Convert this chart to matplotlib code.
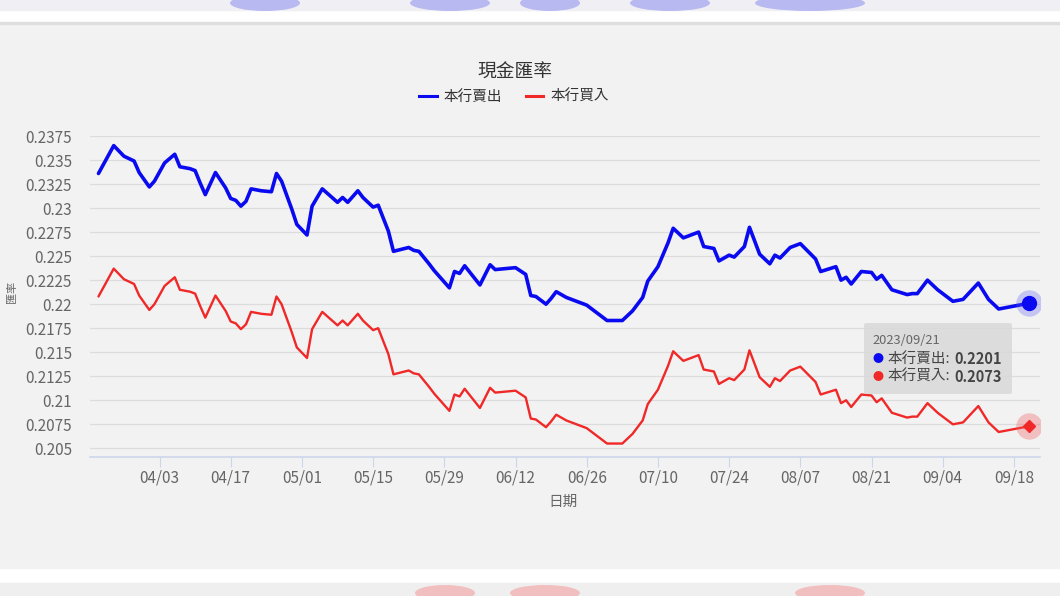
import matplotlib
matplotlib.use('Agg')
import matplotlib.pyplot as plt
import matplotlib.dates as mdates
from matplotlib.patches import Rectangle, Ellipse, FancyBboxPatch
from matplotlib.lines import Line2D
import pandas as pd

plt.rcParams['font.family'] = ['Noto Sans CJK TC', 'DejaVu Sans']

# data (cash rate, 2023)
dates = ['03-22', '03-25', '03-27', '03-29', '03-30', '04-01', '04-02', '04-04',
         '04-06', '04-07', '04-09', '04-10', '04-11', '04-12', '04-14', '04-16',
         '04-17', '04-18', '04-19', '04-20', '04-21', '04-23', '04-25', '04-26',
         '04-27', '04-29', '04-30', '05-02', '05-03', '05-05', '05-08', '05-09',
         '05-10', '05-12', '05-13', '05-15', '05-16', '05-18', '05-19', '05-22',
         '05-23', '05-24', '05-26', '05-27', '05-30', '05-31', '06-01', '06-02',
         '06-05', '06-07', '06-08', '06-12', '06-14', '06-15', '06-16', '06-18',
         '06-19', '06-20', '06-22', '06-26', '06-28', '06-30', '07-03', '07-05',
         '07-07', '07-08', '07-10', '07-12', '07-13', '07-15', '07-18', '07-19',
         '07-21', '07-22', '07-24', '07-25', '07-27', '07-28', '07-30', '08-01',
         '08-02', '08-03', '08-05', '08-07', '08-10', '08-11', '08-14', '08-15',
         '08-16', '08-17', '08-19', '08-21', '08-22', '08-23', '08-25', '08-28',
         '08-29', '08-30', '09-01', '09-03', '09-06', '09-08', '09-11', '09-13',
         '09-15', '09-18', '09-21']

sell = [0.2336, 0.2365, 0.2354, 0.2349, 0.2337, 0.2322, 0.2328, 0.2347,
        0.2356, 0.2343, 0.2341, 0.2339, 0.2326, 0.2314, 0.2337, 0.2321,
        0.2310, 0.2308, 0.2302, 0.2307, 0.2320, 0.2318, 0.2317, 0.2336,
        0.2328, 0.2299, 0.2283, 0.2272, 0.2302, 0.2320, 0.2306, 0.2311,
        0.2306, 0.2318, 0.2311, 0.2301, 0.2303, 0.2276, 0.2255, 0.2259,
        0.2256, 0.2255, 0.2242, 0.2235, 0.2217, 0.2234, 0.2232, 0.2240,
        0.2220, 0.2241, 0.2236, 0.2238, 0.2231, 0.2209, 0.2208, 0.2200,
        0.2206, 0.2213, 0.2207, 0.2199, 0.2191, 0.2183, 0.2183, 0.2193,
        0.2207, 0.2224, 0.2239, 0.2264, 0.2279, 0.2269, 0.2275, 0.2260,
        0.2258, 0.2245, 0.2251, 0.2249, 0.2260, 0.2280, 0.2252, 0.2242,
        0.2251, 0.2248, 0.2259, 0.2263, 0.2247, 0.2234, 0.2239, 0.2225,
        0.2228, 0.2221, 0.2234, 0.2233, 0.2226, 0.2230, 0.2215, 0.2210,
        0.2211, 0.2211, 0.2225, 0.2215, 0.2203, 0.2205, 0.2222, 0.2205,
        0.2195, 0.2198, 0.2201]

buy = [0.2208, 0.2237, 0.2226, 0.2221, 0.2209, 0.2194, 0.2200, 0.2219,
       0.2228, 0.2215, 0.2213, 0.2211, 0.2198, 0.2186, 0.2209, 0.2193,
       0.2182, 0.2180, 0.2174, 0.2179, 0.2192, 0.2190, 0.2189, 0.2208,
       0.2200, 0.2171, 0.2155, 0.2144, 0.2174, 0.2192, 0.2178, 0.2183,
       0.2178, 0.2190, 0.2183, 0.2173, 0.2175, 0.2148, 0.2127, 0.2131,
       0.2128, 0.2127, 0.2114, 0.2107, 0.2089, 0.2106, 0.2104, 0.2112,
       0.2092, 0.2113, 0.2108, 0.2110, 0.2103, 0.2081, 0.2080, 0.2072,
       0.2078, 0.2085, 0.2079, 0.2071, 0.2063, 0.2055, 0.2055, 0.2065,
       0.2079, 0.2096, 0.2111, 0.2136, 0.2151, 0.2141, 0.2147, 0.2132,
       0.2130, 0.2117, 0.2123, 0.2121, 0.2132, 0.2152, 0.2124, 0.2114,
       0.2123, 0.2120, 0.2131, 0.2135, 0.2119, 0.2106, 0.2111, 0.2097,
       0.2100, 0.2093, 0.2106, 0.2105, 0.2098, 0.2102, 0.2087, 0.2082,
       0.2083, 0.2083, 0.2097, 0.2087, 0.2075, 0.2077, 0.2094, 0.2077,
       0.2067, 0.2070, 0.2073]

xtick_dates = ['04-03', '04-17', '05-01', '05-15', '05-29', '06-12', '06-26',
               '07-10', '07-24', '08-07', '08-21', '09-04', '09-18']
ytick_vals = [0.205, 0.2075, 0.21, 0.2125, 0.215, 0.2175, 0.22, 0.2225,
              0.225, 0.2275, 0.23, 0.2325, 0.235, 0.2375]
ytick_labels = ['0.205', '0.2075', '0.21', '0.2125', '0.215', '0.2175', '0.22',
                '0.2225', '0.225', '0.2275', '0.23', '0.2325', '0.235', '0.2375']

x = pd.to_datetime(['2023-' + d for d in dates])
xt = pd.to_datetime(['2023-' + d for d in xtick_dates])

W, H = 1060, 596
fig = plt.figure(figsize=(W / 100, H / 100), dpi=100)
fig.patch.set_facecolor('white')


def fx(px):
    return px / W


def fy(py):
    return 1 - py / H


# page background pieces (screenshot strips)
fig.add_artist(Rectangle((0, fy(10)), 1, 10 / H, transform=fig.transFigure,
                         color='#efeff4', zorder=0))
for cx, w in [(265, 70), (450, 80), (550, 60), (670, 80), (810, 110)]:
    fig.add_artist(Ellipse((fx(cx), fy(3)), w / W, 16 / H, transform=fig.transFigure,
                           color='#8d8df0', alpha=0.55, lw=0, zorder=0))
fig.add_artist(Rectangle((0, fy(568)), 1, (568 - 23) / H, transform=fig.transFigure,
                         color='#f2f2f2', zorder=0))
fig.add_artist(Rectangle((0, fy(24)), 1, 1.5 / H, transform=fig.transFigure,
                         color='#dedede', zorder=0))
fig.add_artist(Rectangle((0, 0), 1, 13 / H, transform=fig.transFigure,
                         color='#efefef', zorder=0))
for cx, w in [(445, 60), (545, 70), (830, 70)]:
    fig.add_artist(Ellipse((fx(cx), fy(593)), w / W, 16 / H, transform=fig.transFigure,
                           color='#f4a0a0', alpha=0.6, lw=0, zorder=0))

ax = fig.add_axes([fx(90), fy(456.7), fx(1040) - fx(90), (456.7 - 136) / H])
ax.set_facecolor('none')

ax.plot(x, sell, color='#0a0af0', lw=2.6, solid_joinstyle='round',
        solid_capstyle='round', zorder=3)
ax.plot(x, buy, color='#f02828', lw=1.7, solid_joinstyle='round',
        solid_capstyle='round', zorder=3)

# hover markers on the last point
ax.plot(x[-1], sell[-1], 'o', ms=19, color='#6060f0', alpha=0.3, mec='none', zorder=4)
ax.plot(x[-1], sell[-1], 'o', ms=10, color='#0a0af0', mec='#0a0af0', zorder=5)
ax.plot(x[-1], buy[-1], 'o', ms=19, color='#f06060', alpha=0.35, mec='none', zorder=4)
ax.plot(x[-1], buy[-1], 'D', ms=6.5, color='#f02828', mec='#f02828', zorder=5)

ax.set_xlim(pd.Timestamp('2023-03-20 08:00'), pd.Timestamp('2023-09-23 03:00'))
ax.set_ylim(0.20413, 0.2375)

ax.set_yticks(ytick_vals)
ax.set_yticklabels(ytick_labels)
ax.set_xticks(xt)
ax.xaxis.set_major_formatter(mdates.DateFormatter('%m/%d'))
ax.tick_params(axis='y', length=0, pad=13, labelsize=11, labelcolor='#666666')
ax.tick_params(axis='x', length=7.5, width=0.8, color='#ccd6eb', pad=1.5,
               labelsize=11, labelcolor='#666666')

ax.grid(axis='y', color='#dcdcdc', lw=0.9)
ax.set_axisbelow(True)
for s in ['top', 'right', 'left']:
    ax.spines[s].set_visible(False)
ax.spines['bottom'].set_color('#ccd6eb')
ax.spines['bottom'].set_linewidth(1.2)

fig.text(fx(563), fy(502), '日期', ha='center', va='center', fontsize=10.5, color='#666666')
fig.text(fx(12), fy(292), '匯率', ha='center', va='center', rotation=90,
         fontsize=8, color='#666666')

# title and legend
fig.text(fx(515), fy(72), '現金匯率', ha='center', va='center', fontsize=13.5, color='#333333')
handles = [Line2D([], [], color='#0a0af0', lw=2.2), Line2D([], [], color='#f02828', lw=2.2)]
fig.legend(handles, ['本行賣出', '本行買入'], loc='center', ncol=2,
           bbox_to_anchor=(fx(514), fy(97)), frameon=False, fontsize=10.5,
           handlelength=1.2, handletextpad=0.5, columnspacing=1.6,
           labelcolor='#333333')

# tooltip
fig.add_artist(FancyBboxPatch((fx(864), fy(394)), fx(1012) - fx(864), (394 - 323) / H,
                              boxstyle='round,pad=0,rounding_size=0.003',
                              transform=fig.transFigure, facecolor='#d9d9d9',
                              edgecolor='none', alpha=0.85, zorder=6))
fig.text(fx(872), fy(341), '2023/09/21', fontsize=9.3, color='#666666', va='center', zorder=7)
fig.text(fx(878), fy(359), '●', fontsize=8, color='#0a0af0', ha='center', va='center', zorder=7)
fig.text(fx(887), fy(359), '本行賣出:', fontsize=10.5, color='#444444', va='center', zorder=7)
fig.text(fx(954), fy(359), '0.2201', fontsize=10.5, color='#444444', fontweight='bold',
         va='center', zorder=7)
fig.text(fx(878), fy(377), '●', fontsize=8, color='#f02828', ha='center', va='center', zorder=7)
fig.text(fx(887), fy(377), '本行買入:', fontsize=10.5, color='#444444', va='center', zorder=7)
fig.text(fx(954), fy(377), '0.2073', fontsize=10.5, color='#444444', fontweight='bold',
         va='center', zorder=7)

fig.savefig('out.png', dpi=100)
